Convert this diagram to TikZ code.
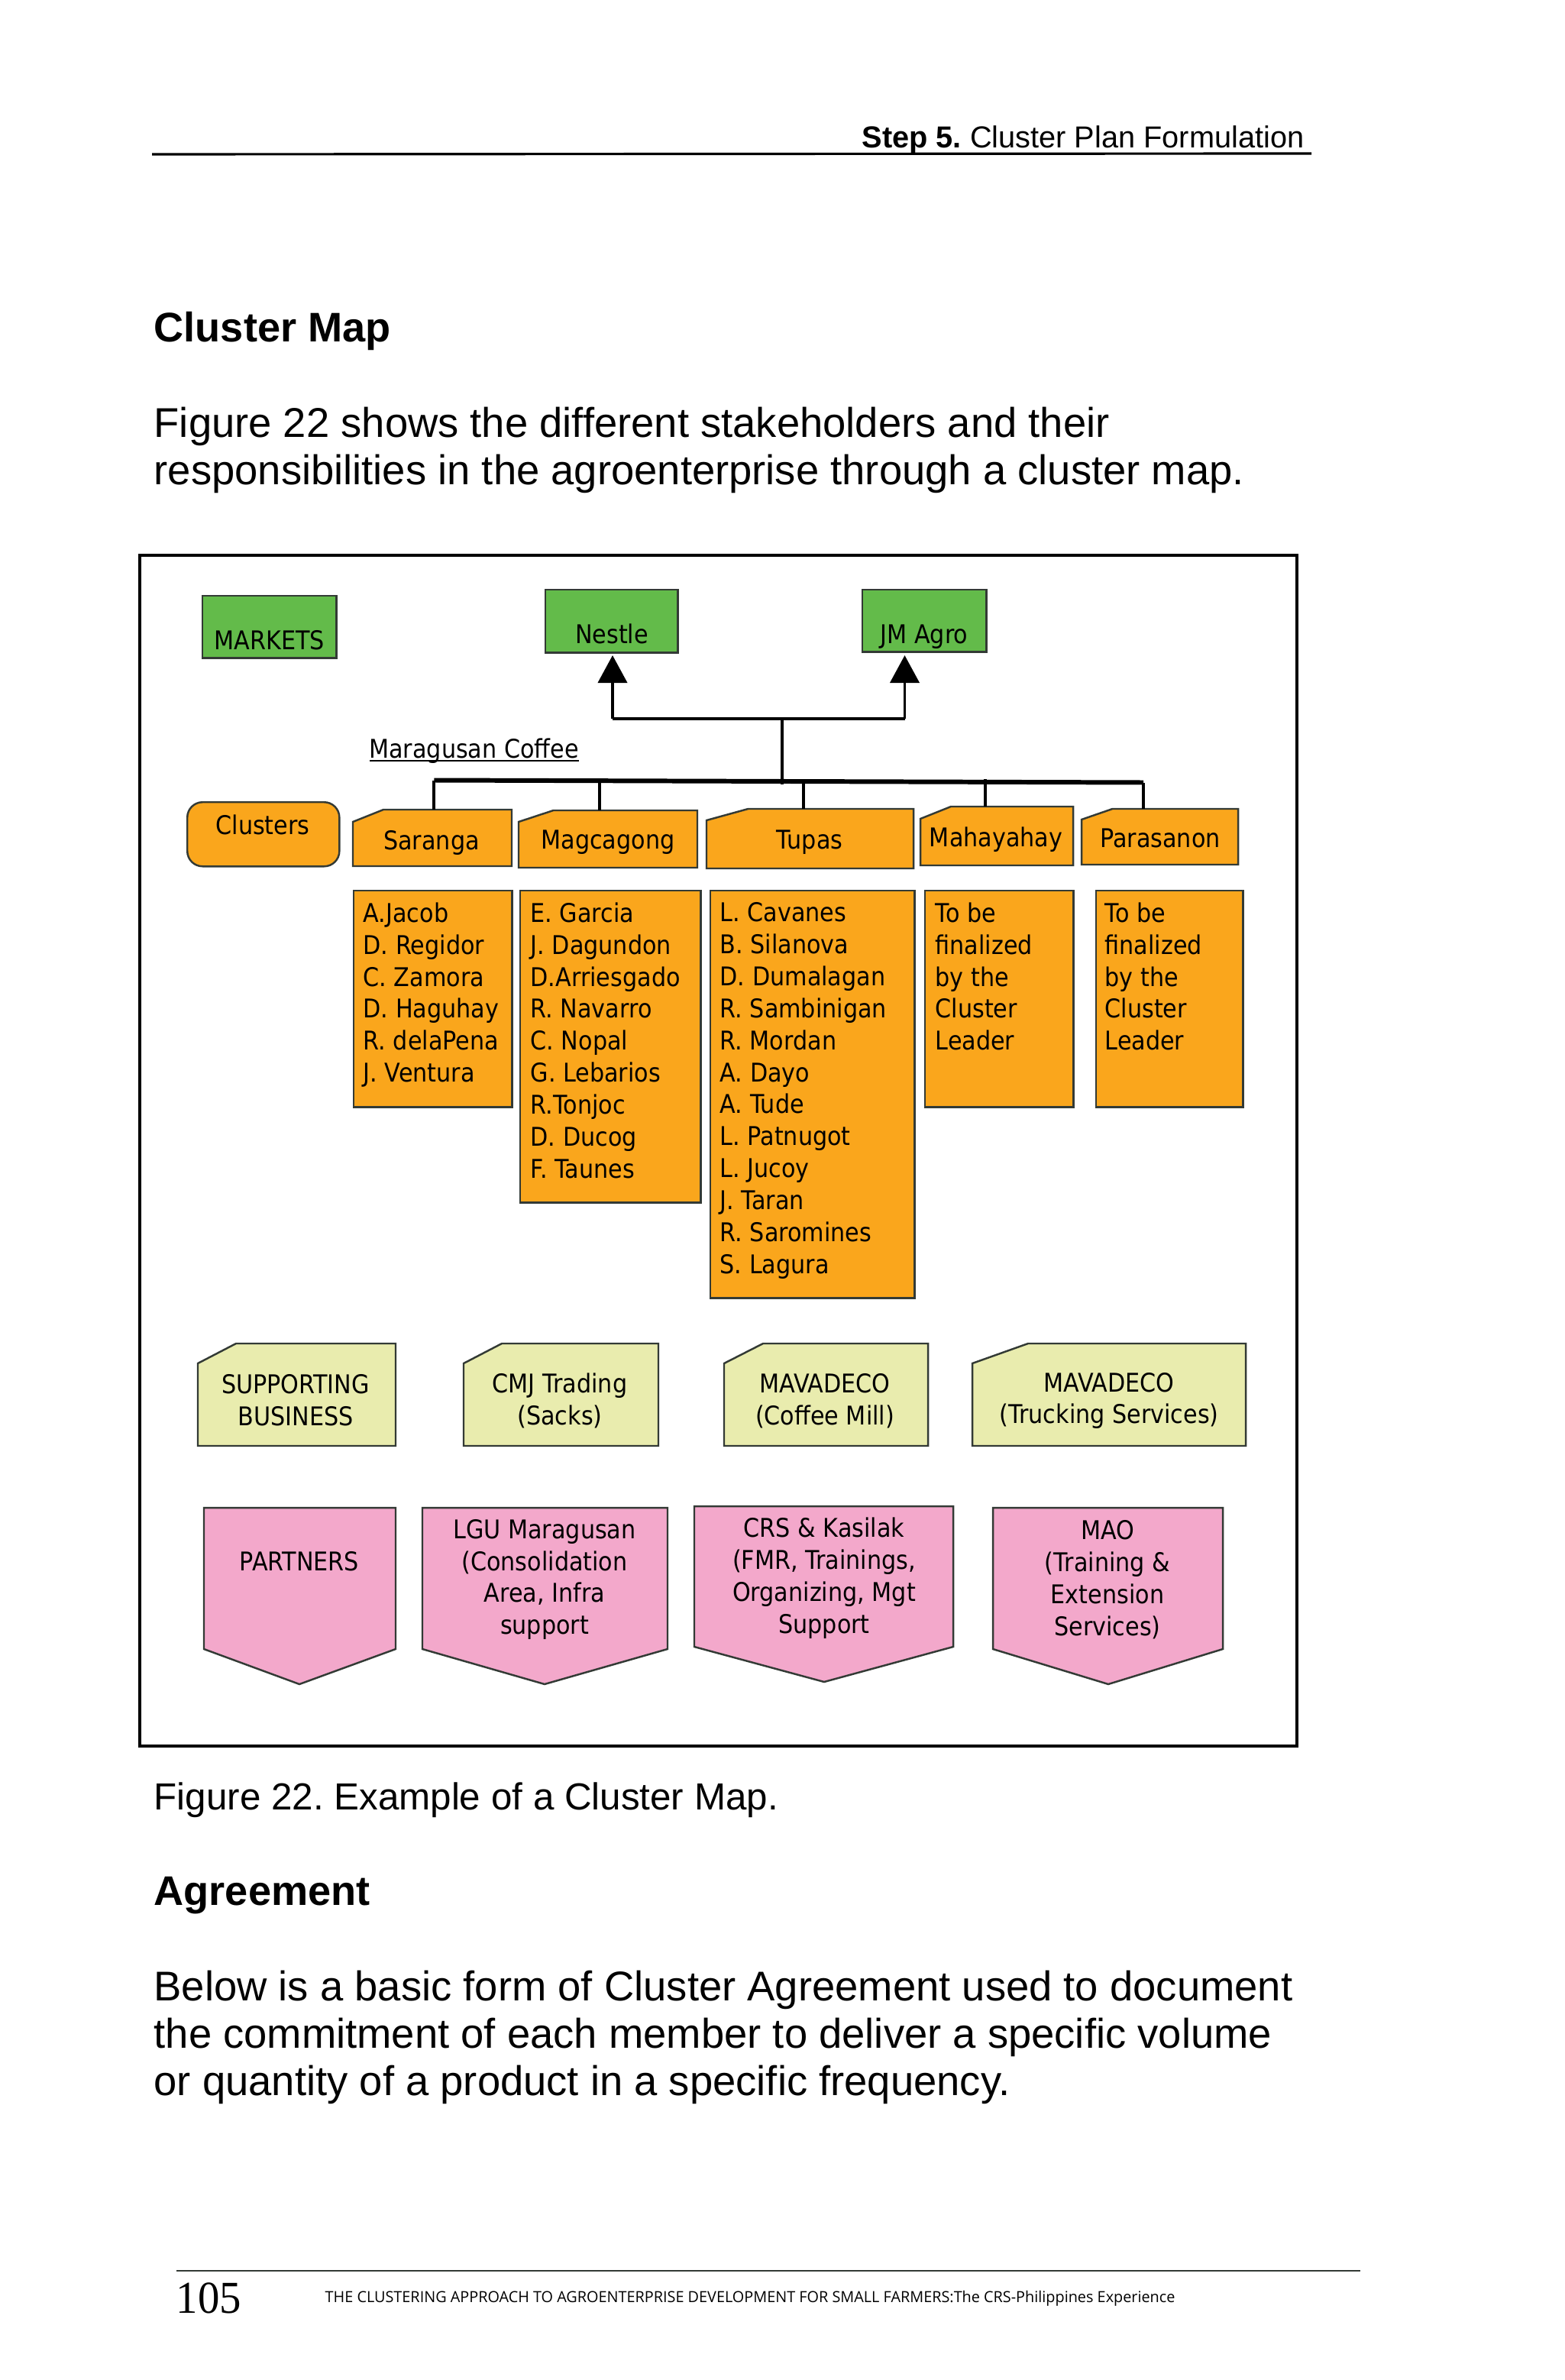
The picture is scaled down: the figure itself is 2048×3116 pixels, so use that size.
\documentclass[tikz,border=0pt]{standalone}
\usepackage{fontspec}
\setmainfont{Liberation Sans}
\newfontfamily\mapfont[FakeStretch=0.895]{DejaVu Sans}
\newfontfamily\footfont[FakeStretch=0.99]{Open Sans}
\newfontfamily\pagefont[FakeStretch=0.95]{Liberation Serif}
\usepackage{tikz}
\usetikzlibrary{arrows.meta}
\definecolor{mapgreen}{HTML}{63BB4A}
\definecolor{maporange}{HTML}{FAA61C}
\definecolor{mapyellow}{HTML}{E9ECAE}
\definecolor{mappink}{HTML}{F3A8CB}
\definecolor{mapedge}{HTML}{333A35}
\tikzset{
  maptext/.style={inner sep=0pt,align=center,font=\mapfont\fontsize{9.6}{11.9}\selectfont},
  listtext/.style={maptext,align=left,anchor=north west},
  bodytext/.style={inner sep=0pt,anchor=base west,font=\fontsize{15.47}{17}\selectfont},
  headtext/.style={inner sep=0pt,anchor=base west,font=\bfseries\fontsize{15.4}{17}\selectfont},
  greenbox/.style={draw=mapedge,fill=mapgreen,line width=0.7pt,inner sep=0pt,anchor=north west},
  orangebox/.style={draw=mapedge,fill=maporange,line width=0.7pt},
  memberbox/.style={orangebox,inner sep=0pt,anchor=north west},
  supportbox/.style={draw=mapedge,fill=mapyellow,line width=0.7pt},
  partnerbox/.style={draw=mapedge,fill=mappink,line width=0.7pt},
  linkline/.style={draw=black,line width=1.1pt},
  busline/.style={draw=black,line width=1.7pt},
  arrowline/.style={linkline,-{Triangle[width=0.38cm,length=0.36cm]}},
}
\begin{document}
\frenchspacing
\begin{tikzpicture}[x=0.01cm,y=-0.01cm]
\useasboundingbox (0,0) rectangle (2048,3116);
\fill[white] (0,0) rectangle (2048,3116);

% Header
\node[inner sep=0pt,anchor=base east,font=\fontsize{11.3}{13}\selectfont] (header) at (1708,194) {\textbf{Step 5.} Cluster Plan Formulation};
\coordinate (ruleLeft) at (199,202);
\coordinate (ruleRight) at (1717,201);
\draw[black,line width=0.9pt] (ruleLeft) -- (ruleRight);

% Text above
\node[headtext] (clusterHead) at (201,448) {Cluster Map};
\node[bodytext] (introOne) at (201,573) {Figure 22 shows the different stakeholders and their};
\node[bodytext] (introTwo) at (201,635) {responsibilities in the agroenterprise through a cluster map.};

% Frame
\draw[black,line width=1.2pt] (183,727) rectangle (1698,2286);

% Markets
\node[greenbox,minimum width=1.75cm,minimum height=0.81cm] (markets) at (264,779) {};
\node[maptext] (marketsText) at (353,838) {MARKETS};
\node[greenbox,minimum width=1.73cm,minimum height=0.82cm] (nestle) at (713,771) {};
\node[maptext] (nestleText) at (801,830) {Nestle};
\node[greenbox,minimum width=1.62cm,minimum height=0.81cm] (jmagro) at (1128,771) {};
\node[maptext] (jmagroText) at (1210,834) {JM Agro};

% Arrows to markets
\coordinate (nestleTip) at (802,858);
\coordinate (jmagroTip) at (1184.5,858);
\coordinate (leftCorner) at (802,941);
\coordinate (rightCorner) at (1184.5,941);
\coordinate (trunkTop) at (1024,941);
\coordinate (trunkEnd) at (1024,1027);
\draw[arrowline] (leftCorner) -- (nestleTip);
\draw[arrowline] (rightCorner) -- (jmagroTip);
\draw[linkline] (leftCorner) -- (rightCorner);
\draw[linkline] (trunkTop) -- (trunkEnd);

\node[maptext] (coffeeText) at (620.5,983) {Maragusan Coffee};
\coordinate (coffeeLeft) at (484,996);
\coordinate (coffeeRight) at (758,996);
\draw[black,line width=0.6pt] (coffeeLeft) -- (coffeeRight);

% Clusters
\node[orangebox,rounded corners=0.2cm,minimum width=1.99cm,minimum height=0.84cm,inner sep=0pt,anchor=north west] (clusters) at (244,1049) {};
\node[maptext] (clustersText) at (344,1080) {Clusters};

\draw[orangebox] (462,1076) -- (502,1060) -- (670,1060) -- (670,1134) -- (462,1134) -- cycle;
\node[maptext] (saranga) at (565,1103) {Saranga};
\draw[orangebox] (679,1076) -- (724.5,1061) -- (913,1061) -- (913,1136) -- (679,1136) -- cycle;
\node[maptext] (magcagong) at (796,1103) {Magcagong};
\draw[orangebox] (925,1074) -- (979.5,1059) -- (1196,1059) -- (1196,1137) -- (925,1137) -- cycle;
\node[maptext] (tupas) at (1060,1103) {Tupas};
\draw[orangebox] (1205,1072) -- (1245,1056) -- (1405,1056) -- (1405,1133) -- (1205,1133) -- cycle;
\node[maptext] (mahayahay) at (1304,1099) {Mahayahay};
\draw[orangebox] (1416,1073) -- (1456.5,1059) -- (1621,1059) -- (1621,1132) -- (1416,1132) -- cycle;
\node[maptext] (parasanon) at (1519,1097) {Parasanon};

% Bus and drops
\coordinate (busLeft) at (568.4,1021.5);
\coordinate (busRight) at (1497,1024.5);
\coordinate (sarangaTop) at (568.4,1060);
\coordinate (magBus) at (785,1020);
\coordinate (magTop) at (785,1061);
\coordinate (tupasBus) at (1051.7,1023);
\coordinate (tupasTop) at (1051.7,1059);
\coordinate (mahaBus) at (1289.6,1020);
\coordinate (mahaTop) at (1289.6,1056);
\coordinate (paraTop) at (1497,1059);
\draw[busline] (busLeft) -- (busRight);
\draw[linkline] (busLeft) -- (sarangaTop);
\draw[linkline] (magBus) -- (magTop);
\draw[linkline] (tupasBus) -- (tupasTop);
\draw[linkline] (mahaBus) -- (mahaTop);
\draw[linkline] (busRight) -- (paraTop);

% Member lists
\node[memberbox,minimum width=2.07cm,minimum height=2.83cm] (sarangaBox) at (462,1165) {};
\node[listtext] (sarangaList) at (475,1181) {A.Jacob\\D. Regidor\\C. Zamora\\D. Haguhay\\R. delaPena\\J. Ventura};
\node[memberbox,minimum width=2.36cm,minimum height=4.08cm] (magBox) at (680,1165) {};
\node[listtext] (magList) at (694,1181) {E. Garcia\\J. Dagundon\\D.Arriesgado\\R. Navarro\\C. Nopal\\G. Lebarios\\R.Tonjoc\\D. Ducog\\F. Taunes};
\node[memberbox,minimum width=2.67cm,minimum height=5.33cm] (tupasBox) at (929,1165) {};
\node[listtext] (tupasList) at (942,1181) {L. Cavanes\\B. Silanova\\D. Dumalagan\\R. Sambinigan\\R. Mordan\\A. Dayo\\A. Tude\\L. Patnugot\\L. Jucoy\\J. Taran\\R. Saromines\\S. Lagura};
\node[memberbox,minimum width=1.94cm,minimum height=2.83cm] (mahaBox) at (1210,1165) {};
\node[listtext] (mahaList) at (1224,1181) {To be\\finalized\\by the\\Cluster\\Leader};
\node[memberbox,minimum width=1.92cm,minimum height=2.83cm] (paraBox) at (1434,1165) {};
\node[listtext] (paraList) at (1446,1181) {To be\\finalized\\by the\\Cluster\\Leader};

% Supporting business
\draw[supportbox] (259,1785) -- (309,1759) -- (518,1759) -- (518,1893) -- (259,1893) -- cycle;
\node[maptext] (supportText) at (387,1833) {SUPPORTING\\BUSINESS};
\draw[supportbox] (607,1785) -- (657,1759) -- (862,1759) -- (862,1893) -- (607,1893) -- cycle;
\node[maptext] (cmjText) at (733,1834) {CMJ Trading\\(Sacks)};
\draw[supportbox] (948,1785) -- (999,1759) -- (1215,1759) -- (1215,1893) -- (948,1893) -- cycle;
\node[maptext] (millText) at (1080,1834) {MAVADECO\\(Coffee Mill)};
\draw[supportbox] (1273,1785) -- (1346,1759) -- (1631,1759) -- (1631,1893) -- (1273,1893) -- cycle;
\node[maptext] (truckText) at (1452,1834) {MAVADECO\\(Trucking Services)};

% Partners
\draw[partnerbox] (267,1974) -- (518,1974) -- (518,2159) -- (392,2205) -- (267,2159) -- cycle;
\node[maptext] (partnersText) at (392,2044) {PARTNERS};
\draw[partnerbox] (553,1974) -- (874,1974) -- (874,2159) -- (713,2205) -- (553,2159) -- cycle;
\node[maptext] (lguText) at (713,2068) {LGU Maragusan\\(Consolidation\\Area, Infra\\support};
\draw[partnerbox] (909,1972) -- (1248,1972) -- (1248,2156) -- (1079,2202) -- (909,2156) -- cycle;
\node[maptext] (crsText) at (1079,2066) {CRS \& Kasilak\\(FMR, Trainings,\\Organizing, Mgt\\Support};
\draw[partnerbox] (1300,1974) -- (1601,1974) -- (1601,2159) -- (1451,2205) -- (1300,2159) -- cycle;
\node[maptext] (maoText) at (1450,2068) {MAO\\(Training \&\\Extension\\Services)};

% Text below
\node[bodytext,font=\fontsize{14.03}{17}\selectfont] (caption) at (201,2369) {Figure 22. Example of a Cluster Map.};
\node[headtext] (agreeHead) at (201,2494) {Agreement};
\node[bodytext] (agreeOne) at (201,2619) {Below is a basic form of Cluster Agreement used to document};
\node[bodytext] (agreeTwo) at (201,2681) {the commitment of each member to deliver a specific volume};
\node[bodytext] (agreeThree) at (201,2743) {or quantity of a product in a specific frequency.};

% Footer
\coordinate (footLeft) at (231,2973);
\coordinate (footRight) at (1781,2973);
\draw[mapedge,line width=0.6pt] (footLeft) -- (footRight);
\node[inner sep=0pt,anchor=base west,font=\pagefont\fontsize{17}{20}\selectfont] (pageNo) at (230,3028) {105};
\node[inner sep=0pt,anchor=base west,font=\footfont\fontsize{5.7}{7}\selectfont] (footText) at (425,3014) {THE CLUSTERING APPROACH TO AGROENTERPRISE DEVELOPMENT FOR SMALL FARMERS:The CRS-Philippines Experience};
\end{tikzpicture}
\end{document}
